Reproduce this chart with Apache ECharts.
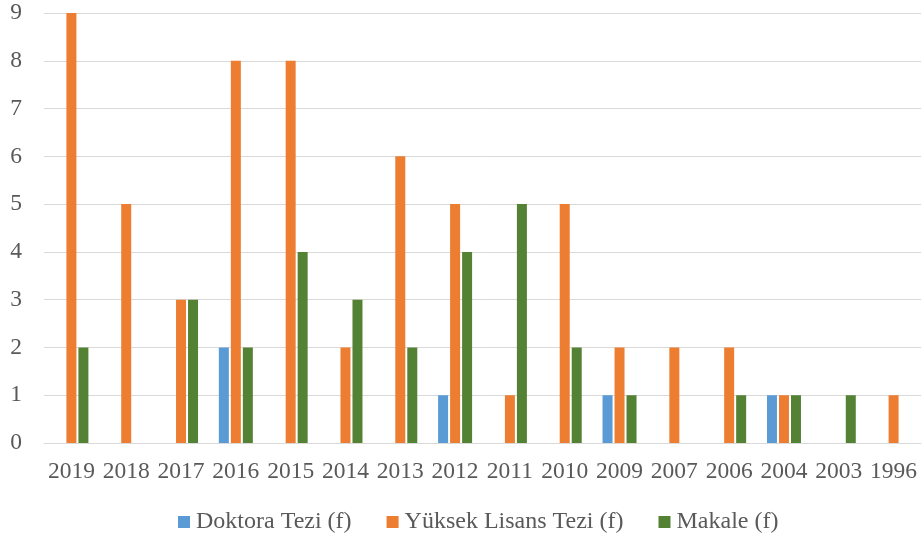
<!DOCTYPE html>
<html><head><meta charset="utf-8">
<script src="https://cdn.jsdelivr.net/npm/echarts@6/dist/echarts.min.js"></script>
<style>html,body{margin:0;padding:0;background:#fff}#c{width:922px;height:539px}</style>
</head><body><div id="c"></div>
<script>
const categories = ['2019','2018','2017','2016','2015','2014','2013','2012','2011','2010','2009','2007','2006','2004','2003','1996'];
const doktora = [0,0,0,2,0,0,0,1,0,0,1,0,0,1,0,0];
const yuksek  = [9,5,3,8,8,2,6,5,1,5,2,2,2,1,0,1];
const makale  = [2,0,3,2,4,3,2,4,5,2,1,0,1,1,1,0];
const seriesNames = ['Doktora Tezi (f)','Yüksek Lisans Tezi (f)','Makale (f)'];
const yTicks = [0,1,2,3,4,5,6,7,8,9];

const font = '"Liberation Serif", "Times New Roman", serif';
const chart = echarts.init(document.getElementById('c'));
const mk = (name, data, color) => ({
  name, type:'bar', data, barWidth:10, barGap:'20%',
  itemStyle:{color}
});
chart.setOption({
  animation:false,
  textStyle:{fontFamily:font},
  grid:{left:44, right:1, top:13, bottom:96, containLabel:false},
  legend:{
    bottom:0, left:173, itemWidth:12, itemHeight:12, itemGap:35,
    icon:'rect',
    textStyle:{fontFamily:font, fontSize:24, color:'#595959', padding:[0,0,0,1]},
    data: seriesNames
  },
  xAxis:{
    type:'category', data:categories,
    axisLine:{lineStyle:{color:'#d9d9d9', width:1}},
    axisTick:{show:false},
    axisLabel:{fontFamily:font, fontSize:23.5, color:'#595959', margin:17, interval:0}
  },
  yAxis:{
    type:'value', min:yTicks[0], max:yTicks[yTicks.length-1], interval:1,
    axisLine:{show:false}, axisTick:{show:false},
    splitLine:{lineStyle:{color:'#d9d9d9', width:1}},
    axisLabel:{fontFamily:font, fontSize:23.5, color:'#595959', margin:22}
  },
  series:[
    mk(seriesNames[0], doktora, '#5b9bd5'),
    mk(seriesNames[1], yuksek, '#ed7d31'),
    mk(seriesNames[2], makale, '#548235')
  ]
});
</script></body></html>
